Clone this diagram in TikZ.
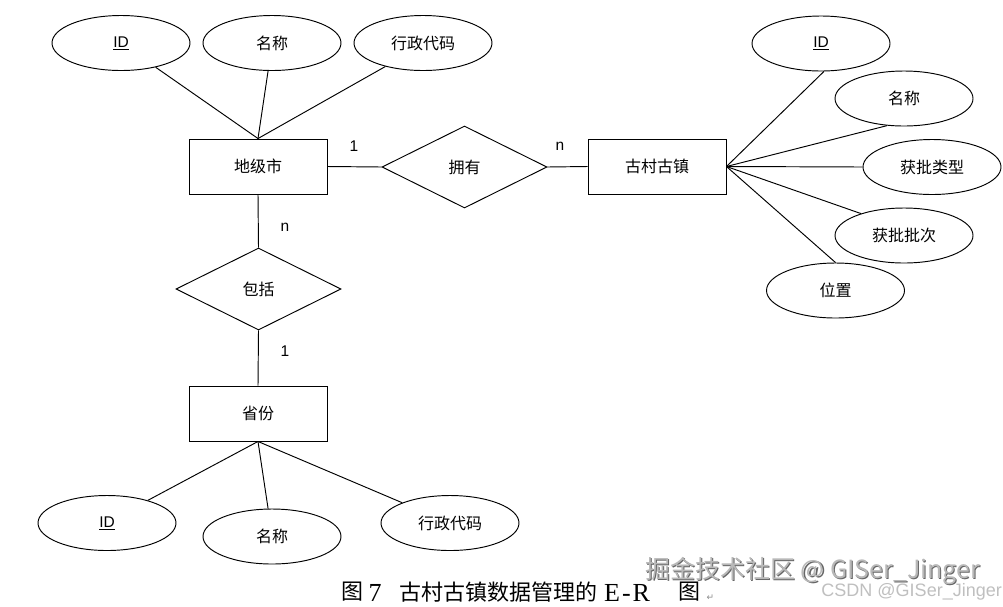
\documentclass[tikz,border=0pt]{standalone}
\usepackage{fontspec}
\setmainfont{Liberation Sans}
\newfontfamily\cjk{Noto Sans CJK SC}
\newfontfamily\serifl{Liberation Serif}
\newfontfamily\symf{DejaVu Sans}
\usetikzlibrary{shapes.geometric}
\tikzset{
  ent/.style={draw, line width=0.95pt, rectangle, minimum width=138pt, minimum height=55pt, inner sep=0pt, font=\fontsize{16}{19}\selectfont\cjk},
  attr/.style={draw, line width=0.95pt, ellipse, minimum width=138pt, minimum height=55pt, inner sep=0pt, font=\fontsize{16}{19}\selectfont\cjk},
  latin/.style={font=\fontsize{15.5}{18}\selectfont},
  rel/.style={draw, line width=0.95pt, diamond, shape aspect=2, minimum width=165pt, minimum height=82pt, inner sep=0pt, font=\fontsize{16}{19}\selectfont\cjk},
  card/.style={inner sep=0pt, font=\fontsize{15.5}{18}\selectfont},
  conn/.style={line width=0.95pt},
  captxt/.style={inner sep=0pt, font=\fontsize{22}{26}\selectfont\cjk},
  capser/.style={inner sep=0pt, font=\fontsize{26}{30}\selectfont\serifl},
}
\begin{document}
\begin{tikzpicture}[x=1pt,y=-1pt]
\useasboundingbox (0,0) rectangle (1003,606);
% entities
\node[ent] (city) at (258,166.5) {地级市};
\node[ent] (village) at (657,166.5) {古村古镇};
\node[ent] (prov) at (258,413.5) {省份};
% relations
\node[rel] (own) at (464.5,167) {拥有};
\node[rel] (incl) at (258.5,289) {包括};
% city attributes
\node[attr, latin] (cid) at (121,43) {\underline{ID}};
\node[attr] (cname) at (272,43) {名称};
\node[attr] (ccode) at (423,43) {行政代码};
% village attributes
\node[attr, latin] (vid) at (821,43.5) {\underline{ID}};
\node[attr] (vname) at (904,98.5) {名称};
\node[attr] (vtype) at (932,167) {获批类型};
\node[attr] (vbatch) at (904,235.5) {获批批次};
\node[attr] (vloc) at (835.5,290.5) {位置};
% province attributes
\node[attr, latin] (pid) at (107,523) {\underline{ID}};
\node[attr] (pname) at (272,536.5) {名称};
\node[attr] (pcode) at (450,523) {行政代码};
% cardinalities
\node[card] (c1) at (354,146) {1};
\node[card] (c2) at (560,146) {n};
\node[card] (c3) at (285,227) {n};
\node[card] (c4) at (285,351) {1};
% connectors
\draw[conn] (city.east) -- (own.west);
\draw[conn] (own.east) -- (village.west);
\draw[conn] (city.south) -- (incl.north);
\draw[conn] (incl.south) -- (prov.north);
\draw[conn] (cid.-35) -- (city.north);
\draw[conn] (cname.-98) -- (city.north);
\draw[conn] (ccode.-148) -- (city.north);
\draw[conn] (village.east) -- (vid.-84);
\draw[conn] (village.east) -- (vname.-122);
\draw[conn] (village.east) -- (vtype.west);
\draw[conn] (village.east) -- (vbatch.153);
\draw[conn] (village.east) -- (vloc.north);
\draw[conn] (prov.south) -- (pid.29);
\draw[conn] (prov.south) -- (pname.98);
\draw[conn] (prov.south) -- (pcode.157);
% caption
\node[captxt] (cap1) at (352.5,592) {图};
\node[capser] (cap2) at (375,593) {7};
\node[captxt, anchor=west] (cap3) at (399,592) {古村古镇数据管理的};
\node[capser, anchor=west] (cap4) at (604,593) {E\hspace{2pt}-\hspace{2pt}R};
\node[captxt] (cap5) at (689,592) {图};
\node[inner sep=0pt, text=black!45, font=\fontsize{9}{10}\selectfont\symf] (pm) at (710.5,598) {↵};
% watermarks
\node[anchor=west, inner sep=0pt, text=black!60, font=\fontsize{25}{28}\selectfont\cjk] (wm0) at (646.2,572.2) {掘金技术社区 @ GISer\_Jinger};
\node[anchor=west, inner sep=0pt, text=black!28, font=\fontsize{25}{28}\selectfont\cjk] (wm1) at (645,571) {掘金技术社区 @ GISer\_Jinger};
\node[anchor=east, inner sep=0pt, text=black!25, font=\fontsize{18}{20}\selectfont] (wm2) at (1002,592) {CSDN @GISer\_Jinger};
\end{tikzpicture}
\end{document}
